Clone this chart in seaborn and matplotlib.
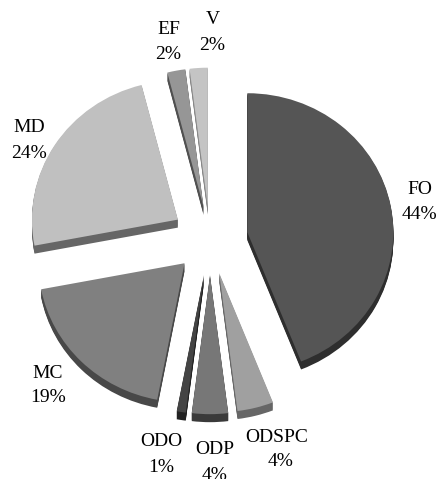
import matplotlib
matplotlib.use("Agg")
import matplotlib.pyplot as plt
import seaborn as sns

# Share of each category, clockwise from twelve o'clock
categories = ["FO", "ODSPC", "ODP", "ODO", "MC", "MD", "EF", "V"]
shares = [44, 4, 4, 1, 19, 24, 2, 2]

# Styling per slice
top_colors = ["#555555", "#a0a0a0", "#777777", "#444444", "#808080", "#c0c0c0", "#969696", "#c4c4c4"]
side_colors = ["#2e2e2e", "#666666", "#3a3a3a", "#222222", "#484848", "#666666", "#505050", "#888888"]
pull_out = [38, 37, 38, 38, 36, 38, 34, 34]

# Label anchors in pixels from the top-left: name centre, then percentage centre
label_spots = {
    "FO": (420, 189, 419, 215),
    "ODSPC": (277, 437, 281, 462),
    "ODP": (215, 449, 215, 475),
    "ODO": (161, 442, 161, 468),
    "MC": (48, 373, 48, 398),
    "MD": (29, 128, 29, 153),
    "EF": (169, 29, 168, 55),
    "V": (213, 19, 212, 46),
}

WIDTH, HEIGHT = 437, 479
SQUASH = 146 / 139  # the disc is slightly flattened vertically
RADIUS = 146
CENTER_X, CENTER_Y = 210, 239
DEPTH = 8

sns.set_theme(style="white")
plt.rcParams["font.family"] = ["Liberation Serif", "DejaVu Serif"]

fig = plt.figure(figsize=(WIDTH / 100, HEIGHT / 100), dpi=100)
ax = fig.add_axes([0, 0, 1, 1])


def data_y(py):
    return (HEIGHT - py) * SQUASH


# Extruded side of the slices, stacked from the bottom up
for step in range(DEPTH, 0, -1):
    ax.pie(shares, explode=pull_out, colors=side_colors, startangle=90, counterclock=False,
           radius=RADIUS, center=(CENTER_X, data_y(CENTER_Y + step)),
           wedgeprops={"linewidth": 0}, frame=True)

# Top face
ax.pie(shares, explode=pull_out, colors=top_colors, startangle=90, counterclock=False,
       radius=RADIUS, center=(CENTER_X, data_y(CENTER_Y)),
       wedgeprops={"linewidth": 0}, frame=True)

ax.set_aspect("auto")
ax.set_xlim(0, WIDTH)
ax.set_ylim(0, HEIGHT * SQUASH)
ax.set_axis_off()

for name, share in zip(categories, shares):
    nx, ny, px, py = label_spots[name]
    ax.text(nx, data_y(ny), name, ha="center", va="center", fontsize=14, color="black")
    ax.text(px, data_y(py), f"{share}%", ha="center", va="center", fontsize=14, color="black")

fig.savefig("out.png", dpi=100, facecolor="white")
